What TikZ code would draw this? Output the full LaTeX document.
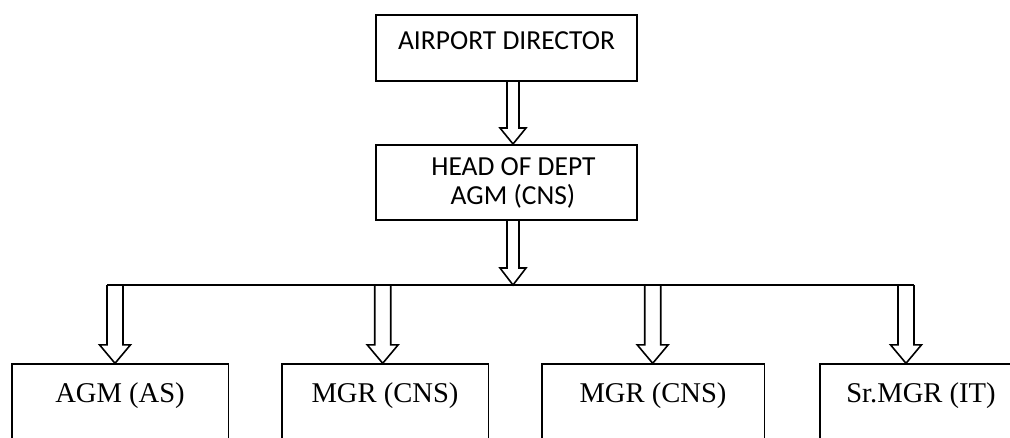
\documentclass[tikz,border=0pt]{standalone}
\usepackage{fontspec}
\setmainfont{Liberation Serif}
\newfontfamily\carlitofont{Carlito}
\usetikzlibrary{calc}

\tikzset{
  orgbox/.style={draw, line width=1.6pt, inner sep=0pt},
  sanslabel/.style={font=\carlitofont\fontsize{27.5}{33}\selectfont},
  seriflabel/.style={font=\fontsize{28.6}{34}\selectfont},
  flow/.style={draw, line width=1.6pt, line join=miter},
}

% hollow block arrow pointing down: #1 start (on shaft axis), #2 tip,
% #3 half shaft width, #4 half head width, #5 head length
\newcommand{\hollowdown}[5]{%
  \path[flow] let \p1=(#1), \p2=(#2) in
    (\x1-#3,\y1) -- (\x1-#3,\y2+#5) -- (\x1-#4,\y2+#5) -- (\x1,\y2)
    -- (\x1+#4,\y2+#5) -- (\x1+#3,\y2+#5) -- (\x1+#3,\y1);
}

\begin{document}
\begin{tikzpicture}[x=1pt,y=-1pt]
  \useasboundingbox (0,0) rectangle (1010,437);
  \clip (0,0) rectangle (1010,437);

  % top of the hierarchy
  \node[orgbox, sanslabel, anchor=north, minimum width=261,
        text height=34.3, text depth=31.7] (ad) at (506.5,14) {AIRPORT DIRECTOR};

  \node[orgbox, anchor=north, minimum width=261, minimum height=75] (hod) at (506.5,144) {};
  \node[sanslabel, anchor=base, inner sep=0] (hodA) at (513.5,175) {HEAD OF DEPT};
  \node[sanslabel, anchor=base, inner sep=0] (hodB) at (513,204) {AGM (CNS)};

  % branch line
  \coordinate (hub) at (513,285);
  \coordinate (b1) at (115,285);
  \coordinate (b2) at (382.7,285);
  \coordinate (b3) at (652.7,285);
  \coordinate (b4) at (906,285);
  \draw[flow] ($(b1)+(-8,0)$) -- ($(b4)+(8,0)$);

  % sections
  \node[orgbox, seriflabel, anchor=north, minimum width=216.6,
        text height=38.4, text depth=100] (s1) at (120,363.3) {AGM (AS)};
  \node[orgbox, seriflabel, anchor=north, minimum width=206.6,
        text height=38.4, text depth=100] (s2) at (385,363.3) {MGR (CNS)};
  \node[orgbox, seriflabel, anchor=north, minimum width=222.6,
        text height=38.4, text depth=100] (s3) at (653,363.3) {MGR (CNS)};
  \node[orgbox, seriflabel, anchor=north, minimum width=202,
        text height=38.4, text depth=100] (s4) at (921,363.3) {Sr.MGR (IT)};

  % arrows
  \hollowdown{ad.south -| hub}{hod.north -| hub}{6pt}{13pt}{16pt}
  \hollowdown{hod.south -| hub}{hub}{6pt}{13pt}{17pt}
  \hollowdown{b1}{s1.north -| b1}{8pt}{15.5pt}{18.5pt}
  \hollowdown{b2}{s2.north -| b2}{8pt}{15.5pt}{18.5pt}
  \hollowdown{b3}{s3.north -| b3}{8pt}{15.5pt}{18.5pt}
  \hollowdown{b4}{s4.north -| b4}{8pt}{15.5pt}{18.5pt}
\end{tikzpicture}
\end{document}
